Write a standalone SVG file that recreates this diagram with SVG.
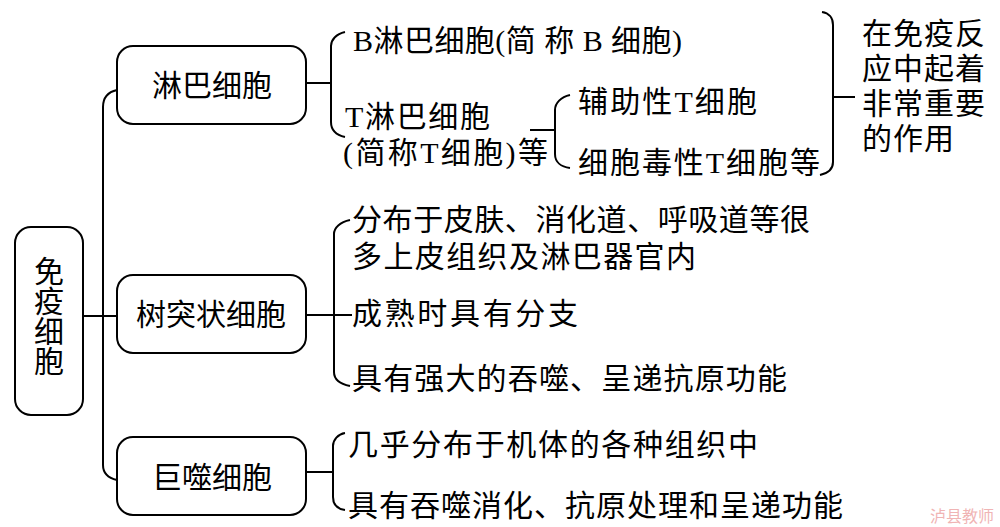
<svg xmlns="http://www.w3.org/2000/svg" width="1000" height="527" viewBox="0 0 1000 527">
<style>
.box{fill:#fff;stroke:#000;stroke-width:2}
.ln{fill:none;stroke:#000;stroke-width:2}
text{font-family:"Liberation Serif","Noto Sans CJK SC",serif;font-size:30px;fill:#000;dominant-baseline:central}
.c{text-anchor:middle}
.wm{font-family:"Noto Sans CJK SC",sans-serif;font-size:16px;fill:#f0b4b4}
</style>
<rect width="1000" height="527" fill="#fff"/>
<g id="connectors">
<path class="ln" d="M83,316 H117"/>
<path class="ln" d="M117,90 C108,92 103,98 103,107 V465 C103,474 108,478 117,480"/>
<path class="ln" d="M306,83 H331"/>
<path class="ln" d="M345,32 C336,34 331,40 331,46 V122 C331,130 336,135 345,137"/>
<path class="ln" d="M530,130 H555"/>
<path class="ln" d="M570,95 C561,97 555,103 555,110 V154 C555,162 561,167 570,168"/>
<path class="ln" d="M306,315 H352"/>
<path class="ln" d="M350,220 C340,222 334,228 334,234 V372 C334,380 340,384 350,386"/>
<path class="ln" d="M306,472 H333"/>
<path class="ln" d="M345,433 C338,434 333,440 333,446 V497 C333,505 338,509 345,510"/>
<path class="ln" d="M822,12 C829,13 833,18 833,25 V162 C833,169 829,173 820,175"/>
<path class="ln" d="M833,97 H855"/>
</g>
<g id="root">
<rect class="box" x="15" y="227" width="68" height="188" rx="16"/>
<text class="c" x="49" y="271">免</text>
<text class="c" x="49" y="301">疫</text>
<text class="c" x="49" y="331">细</text>
<text class="c" x="49" y="361">胞</text>
</g>
<g id="lymph">
<rect class="box" x="117" y="46" width="189" height="78" rx="16"/>
<text class="c" x="212" y="85">淋巴细胞</text>
</g>
<g id="dendritic">
<rect class="box" x="117" y="275" width="189" height="78" rx="16"/>
<text class="c" x="211" y="314">树突状细胞</text>
</g>
<g id="macrophage">
<rect class="box" x="117" y="437" width="189" height="78" rx="16"/>
<text class="c" x="212" y="477">巨噬细胞</text>
</g>
<g id="b-cell">
<text x="353" y="40" textLength="329">B淋巴细胞(简 称 B 细胞)</text>
</g>
<g id="t-cell">
<text x="345" y="116" textLength="145">T淋巴细胞</text>
<text x="343" y="152" textLength="205">(简称T细胞)等</text>
</g>
<g id="helper-t">
<text x="578" y="101" textLength="179">辅助性T细胞</text>
</g>
<g id="cytotoxic-t">
<text x="578" y="162" textLength="242">细胞毒性T细胞等</text>
</g>
<g id="role">
<text x="862" y="33" textLength="123">在免疫反</text>
<text x="862" y="68" textLength="123">应中起着</text>
<text x="862" y="103" textLength="123">非常重要</text>
<text x="862" y="138" textLength="92">的作用</text>
</g>
<g id="dendritic-details">
<text x="352" y="219" textLength="458">分布于皮肤、消化道、呼吸道等很</text>
<text x="352" y="256" textLength="344">多上皮组织及淋巴器官内</text>
<text x="352" y="313" textLength="226">成熟时具有分支</text>
<text x="352" y="378" textLength="435">具有强大的吞噬、呈递抗原功能</text>
</g>
<g id="macrophage-details">
<text x="348" y="444" textLength="410">几乎分布于机体的各种组织中</text>
<text x="348" y="505" textLength="495">具有吞噬消化、抗原处理和呈递功能</text>
</g>
<text class="wm" x="930" y="515">泸县教师</text>
</svg>
